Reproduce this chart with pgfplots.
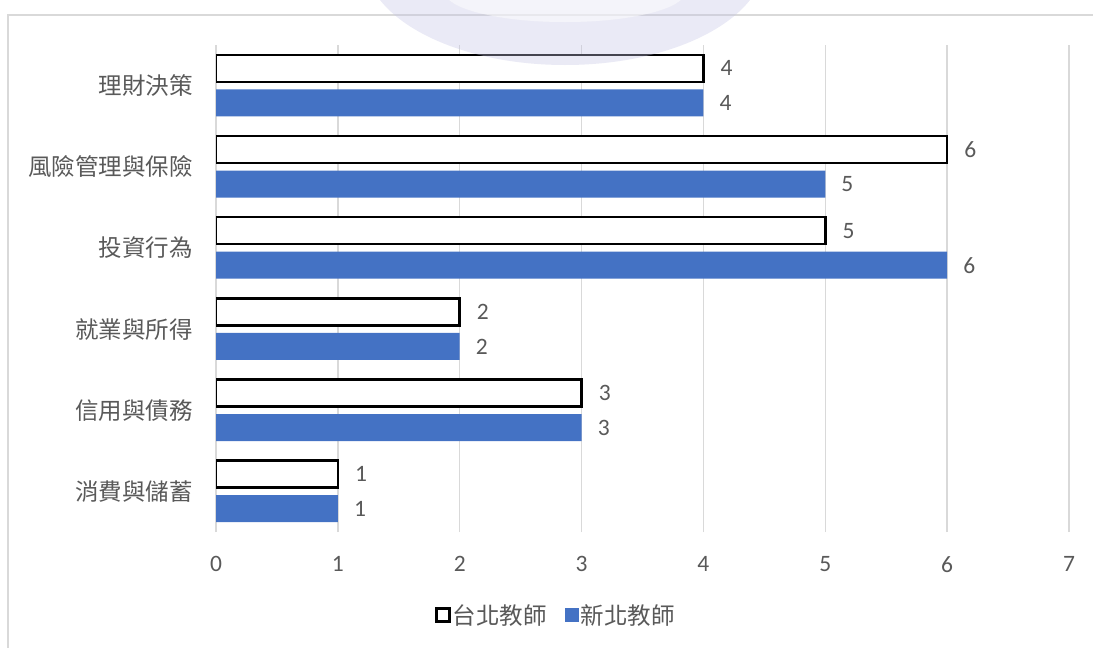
\documentclass[border=0pt]{standalone}
\usepackage{pgfplots}
\pgfplotsset{compat=1.18}
\usepackage{fontspec}
\setmainfont{Carlito}
\newfontfamily\cjk{Noto Sans CJK TC}
\definecolor{barblue}{HTML}{4472C4}
\definecolor{txt}{HTML}{595959}
\definecolor{gridc}{HTML}{D9D9D9}
\definecolor{wm}{HTML}{C4C4E4}
\begin{document}
\begin{tikzpicture}[x=1pt,y=1pt]
\path[use as bounding box] (0,0) rectangle (1093,-648);
\draw[gridc, line width=1.5pt] (8,-648) -- (8,-15) -- (1093,-15);
\begin{axis}[
  at={(216pt,-532pt)}, anchor=south west,
  scale only axis, width=853pt, height=487pt,
  xbar, xmin=0, xmax=7, ymin=-0.5, ymax=5.5,
  bar width=27pt,
  xtick={0,...,7}, ytick={0,...,5},
  yticklabels={消費與儲蓄,信用與債務,就業與所得,投資行為,風險管理與保險,理財決策},
  xmajorgrids, major grid style={gridc, line width=1.5pt},
  axis line style={draw=none}, major tick length=0pt,
  /pgf/number format/assume math mode=true,
  ticklabel style={font=\fontsize{23.5}{28}\selectfont, text=txt, inner sep=0pt},
  yticklabel style={font=\fontsize{23.5}{28}\selectfont\cjk, xshift=-23pt},
  xticklabel style={yshift=-24pt},
  nodes near coords,
  nodes near coords style={font=\fontsize{23.5}{28}\selectfont, text=txt, anchor=west, inner sep=0pt, xshift=16pt},
  legend style={at={(0.3986,-0.1704)}, anchor=center, draw=none, fill=none,
    legend columns=2, font=\fontsize{23.5}{28}\selectfont\cjk, text=txt,
    /tikz/every even column/.append style={column sep=16pt}},
]
\addplot[draw=black, line width=2.5pt, fill=white, bar shift=17.3pt,
  legend image code/.code={\draw[black,line width=2.5pt,fill=white] (0pt,-6.5pt) rectangle (13pt,6.5pt);}]
  coordinates {(1,0) (3,1) (2,2) (5,3) (6,4) (4,5)};
\addplot[draw=none, fill=barblue, bar shift=-17.3pt,
  legend image code/.code={\fill[barblue] (0pt,-7pt) rectangle (14pt,7pt);}]
  coordinates {(1,0) (3,1) (2,2) (6,3) (5,4) (4,5)};
\legend{台北教師,新北教師}
\end{axis}
\begin{scope}
\clip (0,0) rectangle (1093,-648);
\fill[wm, opacity=0.35] (565,40) ellipse [x radius=200, y radius=105];
\fill[white, opacity=0.5] (565,8) ellipse [x radius=120, y radius=30];
\end{scope}
\end{tikzpicture}
\end{document}
